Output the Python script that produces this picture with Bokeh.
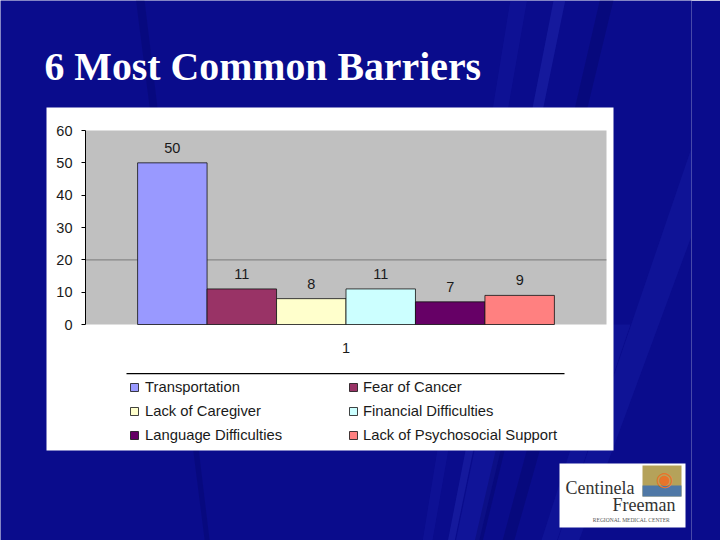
from bokeh.plotting import figure
from bokeh.models import (Range1d, FactorRange, ColumnDataSource, LabelSet, Label,
                          BoxAnnotation, PolyAnnotation, Legend, LegendItem, FixedTicker,
                          LinearAxis, CategoricalAxis, Grid)
from bokeh.transform import dodge
from bokeh.core.properties import value
from bokeh.embed import file_html
from bokeh.resources import INLINE

# ---------------- data ----------------
slide_title = "6 Most Common Barriers"
categories = ["1"]
series = ["Transportation", "Fear of Cancer", "Lack of Caregiver",
          "Financial Difficulties", "Language Difficulties",
          "Lack of Psychosocial Support"]
counts = [50, 11, 8, 11, 7, 9]
colors = ["#9999ff", "#993366", "#ffffcc", "#ccffff", "#660066", "#ff8080"]
y_ticks = [0, 10, 20, 30, 40, 50, 60]
y_min, y_max = 0, 60
grid_ticks = [20]
legend_col1 = [0, 2, 4]
legend_col2 = [1, 3, 5]

# ---------------- layout (window pixels) ----------------
W, H = 720, 540
FL, FR, FT, FB = 85, 606, 130, 324      # gray plot area in window pixels
UNIT = FR - FL                          # pixels per category
PADL = FL / UNIT                        # category padding so the frame starts at x=0
FRAME_W = int(round(UNIT * (1 + 2 * PADL)))
PX_PER_Y = (FB - FT) / (y_max - y_min)
FONT = "Liberation Sans"
BG = "#0a0c8c"

p = figure(width=W, height=H,
           x_range=FactorRange(factors=categories, range_padding=PADL,
                               range_padding_units="absolute"),
           y_range=Range1d(y_min - (H - FB) / PX_PER_Y, y_max + FT / PX_PER_Y),
           x_axis_location=None, y_axis_location=None,
           output_backend="svg", toolbar_location=None,
           min_border_left=0, min_border_right=W - FRAME_W,
           min_border_top=0, min_border_bottom=0,
           background_fill_color=BG, border_fill_color=BG,
           outline_line_color=None)
p.title.visible = False
p.center = [r for r in p.center if not isinstance(r, Grid)]
p.extra_y_ranges = {"py": Range1d(H, 0)}   # window-pixel y for decorations

def X(px):
    return (px - FL) / UNIT

def scr(**kw):
    kw.setdefault("y_range_name", "py")
    return kw

# subtle background streaks
fx, fy = 300, -300
streaks = [
    ([fx, 500, 530], [fy, 0, 0], "#3a48e0", 0.14),
    ([fx, 610, 630], [fy, 0, 0], "#3a48e0", 0.12),
    ([fx, 560, 575], [fy, 0, 0], "#000050", 0.25),
    ([fx, 730, 730], [fy, 60, 90], "#3a48e0", 0.12),
    ([fx, 730, 730], [fy, 350, 380], "#4a58e8", 0.18),
    ([fx, 730, 730], [fy, 250, 275], "#000050", 0.25),
    ([fx, 730, 730], [fy, 460, 520], "#3a48e0", 0.10),
    ([fx, 0, 0], [fy, 430, 470], "#000050", 0.22),
]
for xs, ys, c, a in streaks:
    p.add_layout(PolyAnnotation(**scr(xs=[X(v) for v in xs], ys=ys, fill_color=c,
                                      fill_alpha=a, line_color=None, level="image")))

def box(l, r, t, b, color):
    p.add_layout(BoxAnnotation(**scr(left=X(l), right=X(r), top=t, bottom=b,
                                     fill_color=color, fill_alpha=1, line_color=None,
                                     level="image")))

# white chart box, gray plot area, legend top rule
box(46, 613, 107, 450, "white")
box(FL, FR, FT, FB, "#c0c0c0")
box(126, 564, 372.5, 373.8, "black")

# horizontal grid line(s)
for gt in grid_ticks:
    p.add_layout(PolyAnnotation(xs=[0, 1], ys=[gt, gt], fill_alpha=0,
                                line_color="black", line_width=1.3, level="underlay"))

def text(x, y_base, txt, size, color, font="Liberation Serif", align="left", style="normal"):
    # y_base: desired baseline in window pixels (empirical shift for Label rendering)
    p.add_layout(Label(**scr(x=X(x), y=y_base - 0.36 * size, text=txt, text_font=font,
                             text_font_size=f"{size}px", text_font_style=style,
                             text_color=color, text_align=align,
                             text_baseline="alphabetic")))

# title
text(44, 81, slide_title, 39.8, "white", style="bold")

# ---------------- bars ----------------
n = len(series)
bw = 0.8 / n
renderers = []
for i in range(n):
    off = (i - (n - 1) / 2) * bw
    src = ColumnDataSource(dict(x=categories, top=[counts[i]], label=[str(counts[i])]))
    r = p.vbar(x=dodge("x", off, range=p.x_range), top="top", width=bw, source=src,
               fill_color=colors[i], line_color="#111111", line_width=0.8)
    renderers.append(r)
    p.add_layout(LabelSet(x=dodge("x", off, range=p.x_range), y="top", text="label",
                          source=src, y_offset=10, text_align="center",
                          text_baseline="alphabetic", text_font=value(FONT),
                          text_font_size=value("14.5px"), text_color="#1a1a1a"))

# ---------------- axes ----------------
ya = LinearAxis(fixed_location=0, ticker=FixedTicker(ticks=y_ticks), bounds=(y_min, y_max))
ya.axis_line_color = "black"
ya.major_tick_line_color = "black"
ya.major_tick_out = 4
ya.major_tick_in = 0
ya.minor_tick_line_color = None
ya.major_label_standoff = 9
ya.major_label_text_font = FONT
ya.major_label_text_font_size = "14.5px"
ya.major_label_text_color = "#1a1a1a"
p.add_layout(ya, "left")

xa = CategoricalAxis(fixed_location=y_min)
xa.axis_line_color = None
xa.major_tick_line_color = None
xa.major_tick_out = 0
xa.major_tick_in = 0
xa.major_label_standoff = 18
xa.major_label_text_font = FONT
xa.major_label_text_font_size = "14.5px"
xa.major_label_text_color = "#1a1a1a"
p.add_layout(xa, "below")

# ---------------- legends ----------------
def make_legend(idx, xloc, standoff):
    lg = Legend(items=[LegendItem(label=series[i], renderers=[renderers[i]]) for i in idx],
                location=(xloc, 95), orientation="vertical",
                glyph_width=10, glyph_height=10, label_height=20, spacing=4,
                padding=0, margin=0, label_standoff=standoff,
                border_line_color=None, background_fill_alpha=0,
                label_text_font=FONT, label_text_font_size="14.8px",
                label_text_color="#1a1a1a")
    p.add_layout(lg, "center")

make_legend(legend_col1, 129, 6)
make_legend(legend_col2, 348, 5)

# ---------------- logo ----------------
box(559, 685, 463, 527, "white")
box(642, 681, 465, 496, "#b5a25a")
box(642, 681, 485, 496, "#4f78a6")
p.add_layout(Label(**scr(x=X(664), y=478, text="◉", text_font="DejaVu Sans",
                         text_font_size="20px", text_color="#e8742a",
                         text_align="center", text_baseline="middle")))
text(565, 494, "Centinela", 18, "#333333")
text(675, 511, "Freeman", 18, "#333333", align="right")
text(631, 521, "REGIONAL MEDICAL CENTER", 5.5, "#555555", align="center")

open("out.html", "w").write(file_html(p, INLINE))
